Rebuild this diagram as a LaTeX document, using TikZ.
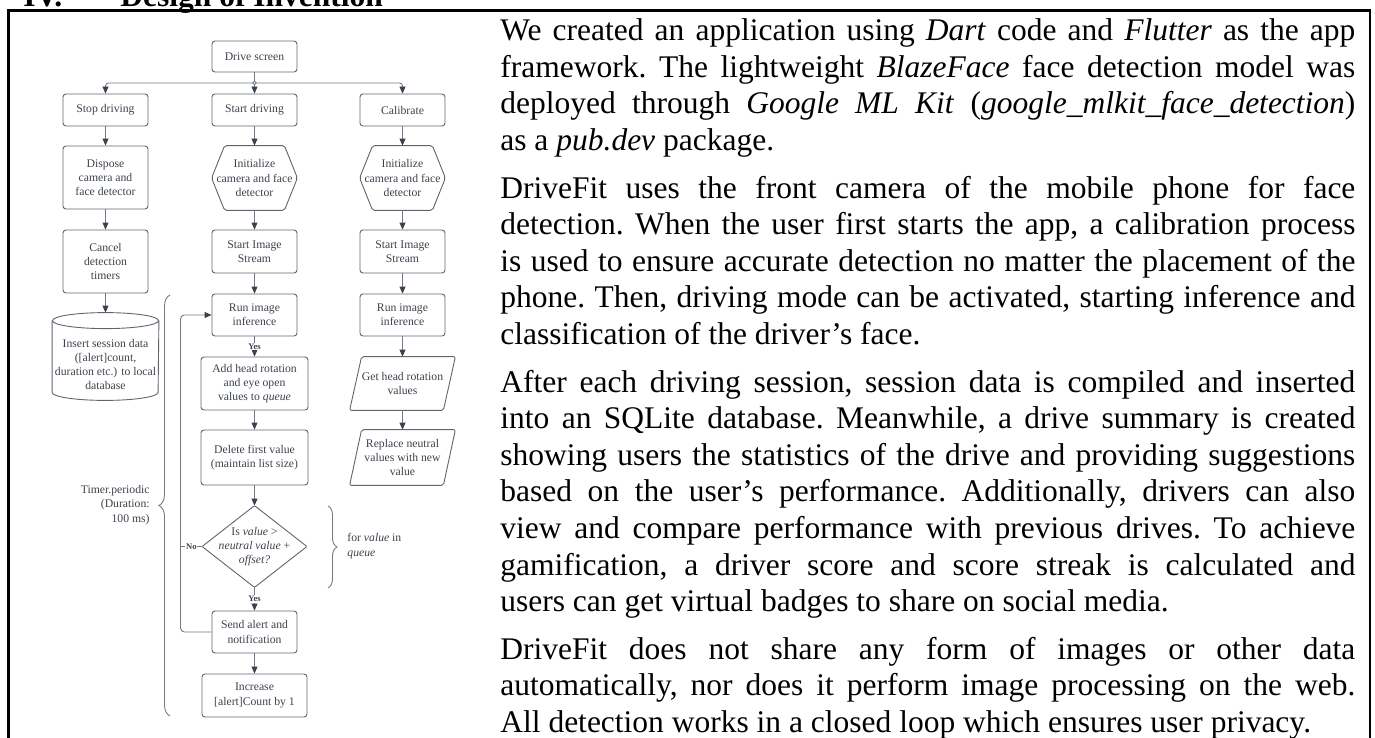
\documentclass[tikz,border=0pt]{standalone}
\usepackage{fontspec}
\setmainfont{Liberation Serif}
\usetikzlibrary{arrows.meta,decorations.pathreplacing}

\definecolor{flowline}{HTML}{737A85}
\definecolor{flowtext}{HTML}{3C434D}
\definecolor{flowedge}{HTML}{5E6570}
\definecolor{tipgray}{HTML}{3A414B}

\newcommand{\flowfont}{\fontsize{5.85}{7.15}\selectfont}
\newcommand{\yesnofont}{\fontsize{4.3}{5}\selectfont\bfseries}
\newcommand{\bodyfont}{\fontsize{15.75}{18.3}\selectfont}

\tikzset{
  box/.style={draw=flowedge, line width=0.45pt, rounded corners=1.5pt, text=flowtext,
    font=\flowfont, align=center, inner sep=1pt},
  bare/.style={text=flowtext, font=\flowfont, align=center, inner sep=1pt},
  shapeline/.style={draw=flowedge, line width=0.45pt, rounded corners=1pt},
  conn/.style={draw=flowline, line width=0.45pt},
  arr/.style={conn, -{Triangle[length=3.5pt,width=3pt,color=tipgray]}},
  yesno/.style={fill=white, text=flowtext, font=\yesnofont, inner sep=0.4pt},
}

\begin{document}
\begin{tikzpicture}[x=0.5pt, y=-0.5pt]
  \useasboundingbox (0,0) rectangle (1375,738);

  % section heading, cut by the top edge
  \node[anchor=base west, inner sep=0, font=\bodyfont\bfseries] (head) at (23,7)
    {\makebox[48.5pt][l]{IV.}Design of Invention};
  \draw[line width=1.35pt] (8.5,738) -- (8.5,10.5) -- (1370,10.5) -- (1370,738);

  % flowchart
  \node[box, minimum width=42.5pt, minimum height=15.5pt] (drive) at (254.5,56.5) {Drive screen};
  \node[box, minimum width=42.5pt, minimum height=16pt] (stop) at (105.5,110) {Stop driving};
  \node[box, minimum width=42.5pt, minimum height=16pt] (start) at (254.5,110) {Start driving};
  \node[box, minimum width=42.5pt, minimum height=16pt] (calib) at (402.5,110) {Calibrate};

  \node[box, minimum width=42.5pt, minimum height=31.5pt] (dispose) at (105.5,177.5) {Dispose\\camera and\\face detector};
  \node[bare, minimum width=42.5pt, minimum height=32pt] (initS) at (254.5,178) {Initialize\\camera and face\\detector};
  \node[bare, minimum width=42.5pt, minimum height=32pt] (initC) at (402.5,178) {Initialize\\camera and face\\detector};

  \node[box, minimum width=42.5pt, minimum height=31.5pt] (cancel) at (105.5,261.5) {Cancel\\detection\\timers};
  \node[box, minimum width=42.5pt, minimum height=21.5pt] (streamS) at (254.5,251.5) {Start Image\\Stream};
  \node[box, minimum width=42.5pt, minimum height=21.5pt] (streamC) at (402.5,251.5) {Start Image\\Stream};

  \node[bare, minimum width=53pt, minimum height=35.5pt] (db) at (105.5,364.5) {Insert session data\\([alert]count,\\duration etc.) to local\\database};
  \node[box, minimum width=42.5pt, minimum height=21pt] (runS) at (254.5,315) {Run image\\inference};
  \node[box, minimum width=42.5pt, minimum height=21pt] (runC) at (402.5,315) {Run image\\inference};

  \node[box, minimum width=53.5pt, minimum height=26.5pt] (queue) at (254.5,383.5) {Add head rotation\\and eye open\\values to \emph{queue}};
  \node[bare, minimum width=52.5pt, minimum height=26.5pt] (getrot) at (402.5,383.5) {Get head rotation\\values};
  \node[box, minimum width=53.5pt, minimum height=27.5pt] (delete) at (254.5,457.5) {Delete first value\\(maintain list size)};
  \node[bare, minimum width=52.5pt, minimum height=27.5pt] (replace) at (402.5,457.5) {Replace neutral\\values with new\\value};

  \node[bare, minimum width=52pt, minimum height=40.5pt] (check) at (254.5,546.5) {Is \emph{value} >\\\emph{neutral value} +\\\emph{offset?}};
  \node[box, minimum width=42.5pt, minimum height=21pt] (alert) at (254.5,632) {Send alert and\\notification};
  \node[box, minimum width=52.5pt, minimum height=21.5pt] (count) at (254.5,695.5) {Increase\\{[}alert]Count by 1};

  % outlines of the non-rectangular steps
  \foreach \h in {initS,initC}
    \draw[shapeline] (\h.west) -- ([xshift=6.5pt]\h.north west) -- ([xshift=-6.5pt]\h.north east)
      -- (\h.east) -- ([xshift=-6.5pt]\h.south east) -- ([xshift=6.5pt]\h.south west) -- cycle;
  \foreach \p in {getrot,replace}
    \draw[shapeline] ([xshift=6pt]\p.north west) -- (\p.north east)
      -- ([xshift=-6pt]\p.south east) -- (\p.south west) -- cycle;
  \draw[shapeline, rounded corners=0.5pt] (check.north) -- (check.east) -- (check.south) -- (check.west) -- cycle;
  \draw[shapeline, rounded corners=0pt] ([yshift=4pt]db.north west) -- ([yshift=4pt]db.south west)
    arc[start angle=180, end angle=360, x radius=26.5pt, y radius=4pt] -- ([yshift=4pt]db.north east);
  \draw[shapeline] ([yshift=4pt]db.north) ellipse [x radius=26.5pt, y radius=4pt];

  % connectors
  \coordinate (split) at (254.5,83);
  \draw[conn] (drive) -- (split);
  \draw[arr, rounded corners=1.5pt] (split) -| (stop);
  \draw[arr] (split) -- (start);
  \draw[arr, rounded corners=1.5pt] (split) -| (calib);
  \draw[draw=flowline, fill=white, line width=0.4pt] (split) circle (0.9pt);

  \draw[arr] (stop) -- (dispose);
  \draw[arr] (dispose) -- (cancel);
  \draw[arr] (cancel) -- ([yshift=8pt]db.north);

  \draw[arr] (start) -- (initS);
  \draw[arr] (initS) -- (streamS);
  \draw[arr] (streamS) -- (runS);
  \draw[arr] (runS) -- node[yesno] {Yes} (queue);
  \draw[arr] (queue) -- (delete);
  \draw[arr] (delete) -- (check.north);
  \draw[arr] (check.south) -- node[yesno] {Yes} (alert);
  \draw[arr] (alert) -- (count);

  \draw[arr] (calib) -- (initC);
  \draw[arr] (initC) -- (streamC);
  \draw[arr] (streamC) -- (runC);
  \draw[arr] (runC) -- (getrot);
  \draw[arr] (getrot) -- (replace);

  \coordinate (loop) at (180.5,480);
  \draw[conn] (check.west) -- node[yesno] {No} (check.west -| loop);
  \draw[arr, rounded corners=2pt] (alert.west) -| (loop) |- (runS.west);

  % braces
  \draw[conn, decorate, decoration={brace, amplitude=5.5pt}] (170,716) -- (170,295);
  \node[bare, align=right, anchor=east] (timer) at (152,505) {Timer.periodic\\(Duration:\\100 ms)};
  \draw[conn, decorate, decoration={brace, amplitude=4.5pt}] (328,506) -- (328,588);
  \node[bare, align=left, anchor=west] (forval) at (345,546) {for \emph{value} in\\\emph{queue}};

  % body text
  \node[anchor=north west, inner sep=0, text width=427.5pt, align=justify, font=\bodyfont] (body) at (500,18.5) {%
    \parskip=5.5pt\parindent=0pt\hyphenpenalty=10000\tolerance=9999\frenchspacing
    We created an application using \emph{Dart} code and \emph{Flutter} as the app\linebreak
    framework. The lightweight \emph{BlazeFace} face detection model was\linebreak
    deployed through \emph{Google ML Kit} (\emph{google\_mlkit\_face\_detection})\linebreak
    as a \emph{pub.dev} package.\par
    DriveFit uses the front camera of the mobile phone for face\linebreak
    detection. When the user first starts the app, a calibration process\linebreak
    is used to ensure accurate detection no matter the placement of the\linebreak
    phone. Then, driving mode can be activated, starting inference and\linebreak
    classification of the driver’s face.\par
    After each driving session, session data is compiled and inserted\linebreak
    into an SQLite database. Meanwhile, a drive summary is created\linebreak
    showing users the statistics of the drive and providing suggestions\linebreak
    based on the user’s performance. Additionally, drivers can also\linebreak
    view and compare performance with previous drives. To achieve\linebreak
    gamification, a driver score and score streak is calculated and\linebreak
    users can get virtual badges to share on social media.\par
    DriveFit does not share any form of images or other data\linebreak
    automatically, nor does it perform image processing on the web.\linebreak
    All detection works in a closed loop which ensures user privacy.};
\end{tikzpicture}
\end{document}
